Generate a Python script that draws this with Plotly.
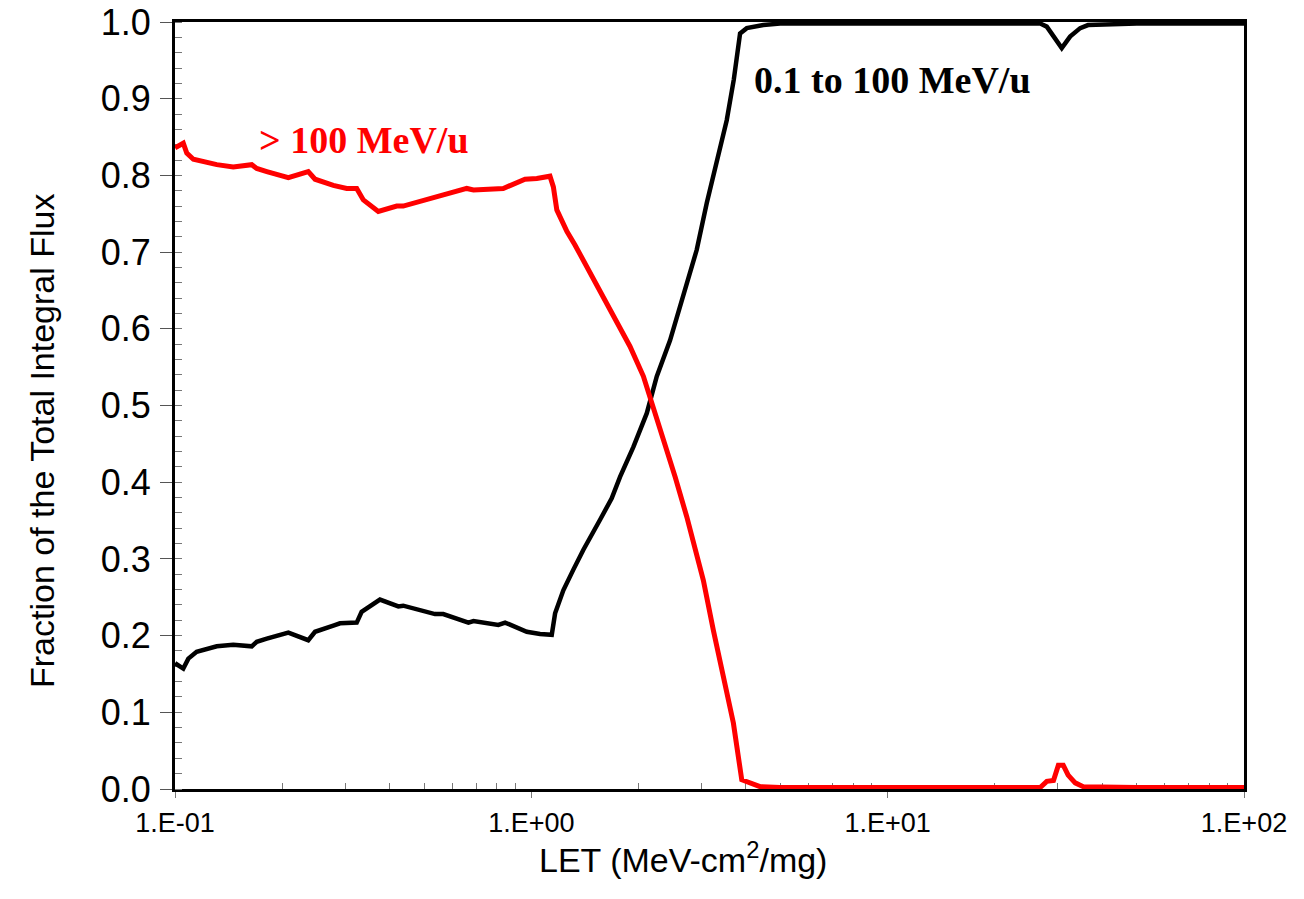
import math
import plotly.graph_objects as go

# ---- data ----
red_let = [0.1, 0.1055, 0.1079, 0.1126, 0.131, 0.1457, 0.1642, 0.1696, 0.181, 0.208,
           0.2366, 0.2472, 0.2782, 0.3033, 0.3236, 0.3377, 0.372, 0.419, 0.437, 0.531,
           0.566, 0.659, 0.688, 0.817, 0.834, 0.960, 1.036, 1.128, 1.153, 1.179,
           1.258, 1.327, 1.431, 1.559, 1.737, 1.892, 2.063, 2.177, 2.347, 2.532,
           2.730, 3.039, 3.242, 3.459, 3.690, 3.895, 4.385, 4.989, 10, 20,
           26.8, 27.96, 29.2, 30.13, 31.1, 32.1, 33.6, 35.4, 50, 100]
red_frac = [0.836, 0.842, 0.829, 0.821, 0.814, 0.811, 0.814, 0.809, 0.805, 0.797,
            0.805, 0.795, 0.787, 0.783, 0.783, 0.768, 0.753, 0.760, 0.760, 0.771,
            0.773, 0.783, 0.781, 0.784, 0.783, 0.795, 0.796, 0.799, 0.785, 0.755,
            0.727, 0.709, 0.681, 0.648, 0.611, 0.577, 0.538, 0.503, 0.459, 0.407,
            0.355, 0.272, 0.207, 0.146, 0.086, 0.012, 0.003, 0.002, 0.002, 0.002,
            0.002, 0.010, 0.011, 0.031, 0.031, 0.018, 0.008, 0.003, 0.002, 0.002]

black_let = [0.1, 0.1055, 0.109, 0.115, 0.131, 0.1457, 0.1642, 0.1696, 0.181, 0.208,
             0.2366, 0.2472, 0.2782, 0.2905, 0.3236, 0.334, 0.376, 0.4234, 0.437, 0.5366,
             0.566, 0.666, 0.688, 0.808, 0.844, 0.971, 1.058, 1.141, 1.166, 1.2297,
             1.312, 1.400, 1.559, 1.681, 1.774, 1.934, 2.109, 2.249, 2.451, 2.671,
             2.912, 3.107, 3.242, 3.535, 3.70, 3.853, 4.024, 4.478, 4.989, 10, 20,
             26.8, 27.96, 30.8, 32.5, 34.7, 36.5, 50, 100]
black_frac = [0.164, 0.157, 0.170, 0.179, 0.186, 0.188, 0.186, 0.192, 0.196, 0.204,
              0.194, 0.205, 0.213, 0.216, 0.217, 0.231, 0.247, 0.238, 0.239, 0.228,
              0.228, 0.217, 0.219, 0.214, 0.217, 0.205, 0.202, 0.201, 0.229, 0.259,
              0.286, 0.312, 0.351, 0.379, 0.407, 0.446, 0.490, 0.538, 0.585, 0.642,
              0.703, 0.764, 0.800, 0.872, 0.925, 0.985, 0.992, 0.996, 0.998, 0.998, 0.998,
              0.998, 0.994, 0.966, 0.981, 0.992, 0.996, 0.998, 0.998]

x_tickvals = [0.1, 1, 10, 100]
x_ticktext = ["1.E-01", "1.E+00", "1.E+01", "1.E+02"]
y_tickvals = [i / 10 for i in range(11)]
y_ticktext = ["%.1f" % v for v in y_tickvals]

red_label = "> 100 MeV/u"
black_label = "0.1 to 100 MeV/u"
red_label_pos = (0.339, 0.846)
black_label_pos = (10.35, 0.924)

x_minor = [m * 10 ** e for e in (-1, 0, 1) for m in range(2, 10)]

SANS = "Liberation Sans, Arial, sans-serif"
SERIF = "Liberation Serif, Times New Roman, serif"

fig = go.Figure()
fig.add_trace(go.Scatter(x=black_let, y=black_frac, mode="lines",
                         line=dict(color="black", width=4.5), showlegend=False))
fig.add_trace(go.Scatter(x=red_let, y=red_frac, mode="lines",
                         line=dict(color="#ff0000", width=5), showlegend=False))

fig.update_layout(
    width=1304, height=899,
    margin=dict(l=175, r=60, t=22, b=110),
    paper_bgcolor="white", plot_bgcolor="white",
    xaxis=dict(type="log", range=[-1, 2], tickmode="array",
               tickvals=x_tickvals, ticktext=x_ticktext,
               ticks="outside", ticklen=6, tickwidth=1, tickcolor="#777",
               showgrid=False, zeroline=False, automargin=False,
               showline=True, linecolor="black", linewidth=3, mirror=True,
               layer="below traces", ticklabeloverflow="allow",
               tickfont=dict(family=SANS, size=27, color="black"),
               ticklabelstandoff=2,
               minor=dict(tickmode="array", tickvals=x_minor, ticks="inside",
                          ticklen=6, tickwidth=1, tickcolor="#777", showgrid=False)),
    yaxis=dict(range=[0, 1], tickmode="array",
               tickvals=y_tickvals, ticktext=y_ticktext,
               ticks="outside", ticklen=12, tickwidth=1, tickcolor="#555",
               showgrid=False, zeroline=False, automargin=False,
               showline=True, linecolor="black", linewidth=3, mirror=True,
               layer="below traces", ticklabeloverflow="allow",
               tickfont=dict(family=SANS, size=36, color="black"),
               ticklabelstandoff=2,
               minor=dict(dtick=0.02, ticks="inside", ticklen=7, tickwidth=1,
                          tickcolor="#777", showgrid=False)),
)

fig.add_annotation(x=math.log10(red_label_pos[0]), y=red_label_pos[1], xref="x", yref="y",
                   text="<b>" + red_label.replace(">", "&gt;") + "</b>", showarrow=False,
                   font=dict(family=SERIF, size=38, color="#ff0000"),
                   xanchor="center", yanchor="middle")
fig.add_annotation(x=math.log10(black_label_pos[0]), y=black_label_pos[1], xref="x", yref="y",
                   text="<b>" + black_label + "</b>", showarrow=False,
                   font=dict(family=SERIF, size=38, color="black"),
                   xanchor="center", yanchor="middle")

fig.add_annotation(x=0.475, y=-0.0893, xref="paper", yref="paper",
                   text="LET (MeV-cm<sup>2</sup>/mg)", showarrow=False,
                   font=dict(family=SANS, size=34, color="black"),
                   xanchor="center", yanchor="middle")
fig.add_annotation(x=-0.1244, y=0.4537, xref="paper", yref="paper",
                   text="Fraction of the Total Integral Flux", showarrow=False,
                   textangle=-90,
                   font=dict(family=SANS, size=34, color="black"),
                   xanchor="center", yanchor="middle")

fig.write_html("out.html",
               config={"displayModeBar": False},
               post_script="document.body.style.margin='0';document.body.style.overflow='hidden';")
